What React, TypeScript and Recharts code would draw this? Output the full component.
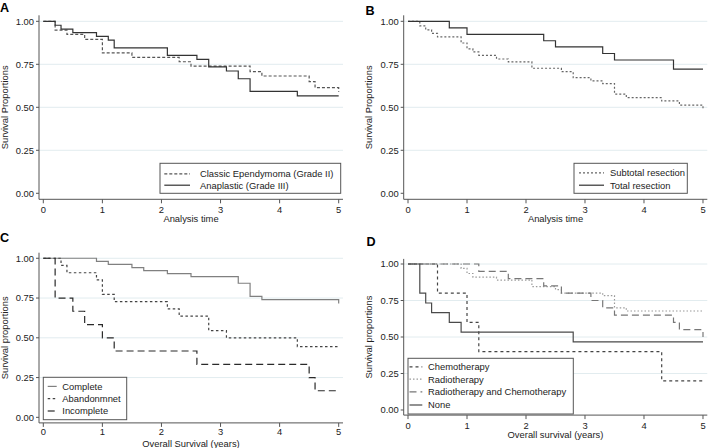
import React from 'react';
import { LineChart, Line, XAxis, YAxis, CartesianGrid } from 'recharts';

const FONT = "'Liberation Sans', Arial, Helvetica, sans-serif";
const FS = 9.4;

// Shared axis ticks
const yearTicks = [0, 1, 2, 3, 4, 5];
const proportionTicks = [0, 0.25, 0.5, 0.75, 1];
const gridValues = [0.25, 0.5, 0.75, 1];

// A: tumour grade
const classicTimes = [0, 0.2, 0.4, 0.7, 1.0, 1.5, 2.3, 2.5, 3.5, 3.7, 4.5, 4.6, 5.0];
const classicSurv = [1, 0.949, 0.924, 0.895, 0.816, 0.79, 0.765, 0.74, 0.707, 0.682, 0.649, 0.614, 0.59];
const anaplasticTimes = [0, 0.2, 0.3, 0.5, 0.9, 1.1, 1.2, 2.1, 2.6, 2.8, 3.1, 3.3, 3.5, 4.3, 5.0];
const anaplasticSurv = [1, 0.977, 0.955, 0.934, 0.913, 0.891, 0.845, 0.802, 0.779, 0.735, 0.711, 0.666, 0.593, 0.567, 0.567];

// B: extent of resection
const subtotalTimes = [0, 0.2, 0.3, 0.4, 0.5, 0.9, 1.0, 1.1, 1.2, 1.5, 1.7, 2.1, 2.6, 2.8, 3.1, 3.3, 3.5, 3.7, 4.3, 4.6, 5.0];
const subtotalSurv = [1, 0.973, 0.95, 0.93, 0.909, 0.874, 0.84, 0.822, 0.802, 0.781, 0.764, 0.727, 0.707, 0.672, 0.654, 0.638, 0.577, 0.556, 0.537, 0.513, 0.495];
const totalTimes = [0, 0.7, 1.0, 2.3, 2.5, 3.3, 3.5, 4.5, 5.0];
const totalSurv = [1, 0.962, 0.924, 0.887, 0.851, 0.813, 0.775, 0.722, 0.722];

// C: treatment completion
const completeTimes = [0, 0.9, 1.1, 1.5, 1.7, 2.1, 2.5, 3.3, 3.5, 3.7, 5.0];
const completeSurv = [1, 0.981, 0.962, 0.941, 0.922, 0.904, 0.885, 0.843, 0.761, 0.74, 0.715];
const abandonTimes = [0, 0.3, 0.4, 0.9, 1.0, 1.2, 2.1, 2.3, 2.8, 3.1, 4.3, 5.0];
const abandonSurv = [1, 0.955, 0.909, 0.864, 0.773, 0.727, 0.682, 0.636, 0.545, 0.5, 0.445, 0.445];
const incompleteTimes = [0, 0.2, 0.5, 0.7, 1.0, 1.2, 2.6, 4.5, 4.6, 5.0];
const incompleteSurv = [1, 0.75, 0.667, 0.583, 0.5, 0.417, 0.333, 0.25, 0.167, 0.167];

// D: adjuvant therapy
const chemoTimes = [0, 0.5, 1.0, 1.2, 4.3, 5.0];
const chemoSurv = [1, 0.8, 0.6, 0.4, 0.2, 0.2];
const radioTimes = [0, 0.9, 1.0, 1.1, 1.5, 2.1, 2.5, 2.6, 3.3, 3.5, 3.7, 5.0];
const radioSurv = [1, 0.97, 0.935, 0.91, 0.89, 0.845, 0.825, 0.8, 0.783, 0.7, 0.678, 0.678];
const radioChemoTimes = [0, 1.2, 1.7, 2.3, 2.6, 3.1, 3.3, 3.5, 4.5, 4.6, 5.0];
const radioChemoSurv = [1, 0.95, 0.9, 0.85, 0.8, 0.75, 0.7, 0.65, 0.6, 0.55, 0.5];
const noneTimes = [0, 0.2, 0.3, 0.4, 0.7, 0.9, 2.8, 5.0];
const noneSurv = [1, 0.8, 0.733, 0.667, 0.6, 0.533, 0.467, 0.467];

type Series = { name: string; times: number[]; surv: number[]; color: string; dash?: string };

const steps = (times: number[], surv: number[]) => times.map((t, i) => ({ t, s: surv[i] }));

type LegendBox = { x: number; y: number; w: number; h: number; sx1: number; sx2: number; tx: number; baselines: number[] };

type PanelDef = {
  letter: string;
  letterPos: [number, number];
  left: number;
  top: number;
  width: number;
  height: number;
  margin: { top: number; right: number; bottom: number; left: number };
  yAxisWidth: number;
  xTickMargin: number;
  xTitle: string;
  xTitlePos: [number, number];
  yTitle: string;
  yTitlePos: [number, number];
  series: Series[];
  legend: LegendBox;
};

const panels: PanelDef[] = [
  {
    letter: 'A',
    letterPos: [0, 12],
    left: 0,
    top: 0,
    width: 354,
    height: 224,
    margin: { top: 15.3, right: 11, bottom: 4.7, left: 0 },
    yAxisWidth: 39,
    xTickMargin: 3,
    xTitle: 'Analysis time',
    xTitlePos: [191, 221.8],
    yTitle: 'Survival Proportions',
    yTitlePos: [8.4, 107.3],
    series: [
      { name: 'Classic Ependymoma (Grade II)', times: classicTimes, surv: classicSurv, color: '#555', dash: '3 2' },
      { name: 'Anaplastic (Grade III)', times: anaplasticTimes, surv: anaplasticSurv, color: '#333' },
    ],
    legend: { x: 160, y: 163.3, w: 180.7, h: 30, sx1: 164.3, sx2: 190, tx: 200, baselines: [177.2, 188.6] },
  },
  {
    letter: 'B',
    letterPos: [365.5, 14.5],
    left: 354,
    top: 0,
    width: 355,
    height: 224,
    margin: { top: 15.3, right: 1.7, bottom: 4.7, left: 0 },
    yAxisWidth: 49.7,
    xTickMargin: 3,
    xTitle: 'Analysis time',
    xTitlePos: [555.5, 221.8],
    yTitle: 'Survival Proportions',
    yTitlePos: [372.3, 107.3],
    series: [
      { name: 'Subtotal resection', times: subtotalTimes, surv: subtotalSurv, color: '#666', dash: '2 2' },
      { name: 'Total resection', times: totalTimes, surv: totalSurv, color: '#333' },
    ],
    legend: { x: 574, y: 163.3, w: 113.3, h: 30, sx1: 579, sx2: 604, tx: 610, baselines: [176.3, 188.6] },
  },
  {
    letter: 'C',
    letterPos: [0, 242.3],
    left: 0,
    top: 224,
    width: 354,
    height: 224,
    margin: { top: 28.7, right: 11, bottom: 5.1, left: 0 },
    yAxisWidth: 39,
    xTickMargin: 1.5,
    xTitle: 'Overall Survival (years)',
    xTitlePos: [191, 447],
    yTitle: 'Survival proportions',
    yTitlePos: [8.4, 337.8],
    series: [
      { name: 'Complete', times: completeTimes, surv: completeSurv, color: '#808080' },
      { name: 'Abandonmnet', times: abandonTimes, surv: abandonSurv, color: '#444', dash: '2.5 2.5' },
      { name: 'Incomplete', times: incompleteTimes, surv: incompleteSurv, color: '#2a2a2a', dash: '7 4' },
    ],
    legend: { x: 43.3, y: 377.3, w: 83.4, h: 42.4, sx1: 47.7, sx2: 56.7, tx: 62.3, baselines: [389.8, 402, 414.4] },
  },
  {
    letter: 'D',
    letterPos: [366.5, 245.7],
    left: 354,
    top: 224,
    width: 355,
    height: 224,
    margin: { top: 34.9, right: 1.7, bottom: 12.9, left: 0 },
    yAxisWidth: 49.7,
    xTickMargin: 3,
    xTitle: 'Overall survival (years)',
    xTitlePos: [555.5, 438.4],
    yTitle: 'Survival proportions',
    yTitlePos: [372.3, 337],
    series: [
      { name: 'Chemotherapy', times: chemoTimes, surv: chemoSurv, color: '#444', dash: '3 3' },
      { name: 'Radiotherapy', times: radioTimes, surv: radioSurv, color: '#9a9a9a', dash: '1.5 2' },
      { name: 'Radiotherapy and Chemotherapy', times: radioChemoTimes, surv: radioChemoSurv, color: '#777', dash: '7 4' },
      { name: 'None', times: noneTimes, surv: noneSurv, color: '#4a4a4a' },
    ],
    legend: { x: 408, y: 358.3, w: 165.3, h: 55.7, sx1: 409.5, sx2: 422.3, tx: 428, baselines: [370.2, 382.6, 395.2, 408.4] },
  },
];

const tickStyle = { fontSize: FS, fill: '#222', fontFamily: FONT };
const axisStroke = '#555';

function KmPanel({ p }: { p: PanelDef }) {
  return (
    <div style={{ position: 'absolute', left: p.left, top: p.top }}>
      <LineChart width={p.width} height={p.height} margin={p.margin}>
        <CartesianGrid vertical={false} horizontalValues={gridValues} stroke="#e2ecef" strokeWidth={1} />
        <XAxis
          type="number"
          dataKey="t"
          domain={[-0.073, 5.073]}
          ticks={yearTicks}
          interval={0}
          allowDataOverflow
          height={20}
          tickSize={4}
          tickMargin={p.xTickMargin}
          axisLine={{ stroke: axisStroke }}
          tickLine={{ stroke: axisStroke }}
          tick={tickStyle}
        />
        <YAxis
          type="number"
          domain={[-0.035, 1.035]}
          ticks={proportionTicks}
          interval={0}
          allowDataOverflow
          width={p.yAxisWidth}
          tickSize={3}
          tickMargin={2}
          tickFormatter={(v: number) => v.toFixed(2)}
          axisLine={{ stroke: axisStroke }}
          tickLine={{ stroke: axisStroke }}
          tick={tickStyle}
        />
        {p.series.map((s) => (
          <Line
            key={s.name}
            data={steps(s.times, s.surv)}
            dataKey="s"
            type="stepAfter"
            stroke={s.color}
            strokeWidth={1.2}
            strokeDasharray={s.dash}
            dot={false}
            activeDot={false}
            isAnimationActive={false}
          />
        ))}
      </LineChart>
    </div>
  );
}

function Annotations() {
  return (
    <svg
      width={709}
      height={448}
      style={{ position: 'absolute', left: 0, top: 0, pointerEvents: 'none' }}
      fontFamily={FONT}
    >
      {panels.map((p) => (
        <g key={p.letter}>
          <text x={p.letterPos[0]} y={p.letterPos[1]} fontSize={12.6} fontWeight="bold" fill="#000">
            {p.letter}
          </text>
          <text x={p.xTitlePos[0]} y={p.xTitlePos[1]} fontSize={FS} fill="#222" textAnchor="middle">
            {p.xTitle}
          </text>
          <text
            transform={`translate(${p.yTitlePos[0]}, ${p.yTitlePos[1]}) rotate(-90)`}
            fontSize={FS}
            fill="#222"
            textAnchor="middle"
          >
            {p.yTitle}
          </text>
          <rect
            x={p.legend.x}
            y={p.legend.y}
            width={p.legend.w}
            height={p.legend.h}
            fill="#fff"
            stroke="#555"
            strokeWidth={1}
          />
          {p.series.map((s, i) => {
            const base = p.legend.baselines[i];
            const cy = base - 3.4;
            return (
              <g key={s.name}>
                <line
                  x1={p.legend.sx1}
                  x2={p.legend.sx2}
                  y1={cy}
                  y2={cy}
                  stroke={s.color}
                  strokeWidth={1.2}
                  strokeDasharray={s.dash}
                />
                <text x={p.legend.tx} y={base} fontSize={FS} fill="#222">
                  {s.name}
                </text>
              </g>
            );
          })}
        </g>
      ))}
    </svg>
  );
}

export default function App() {
  return (
    <div style={{ position: 'absolute', left: 0, top: 0, width: 709, height: 448, background: '#fff', fontFamily: FONT }}>
      {panels.map((p) => (
        <KmPanel key={p.letter} p={p} />
      ))}
      <Annotations />
    </div>
  );
}
